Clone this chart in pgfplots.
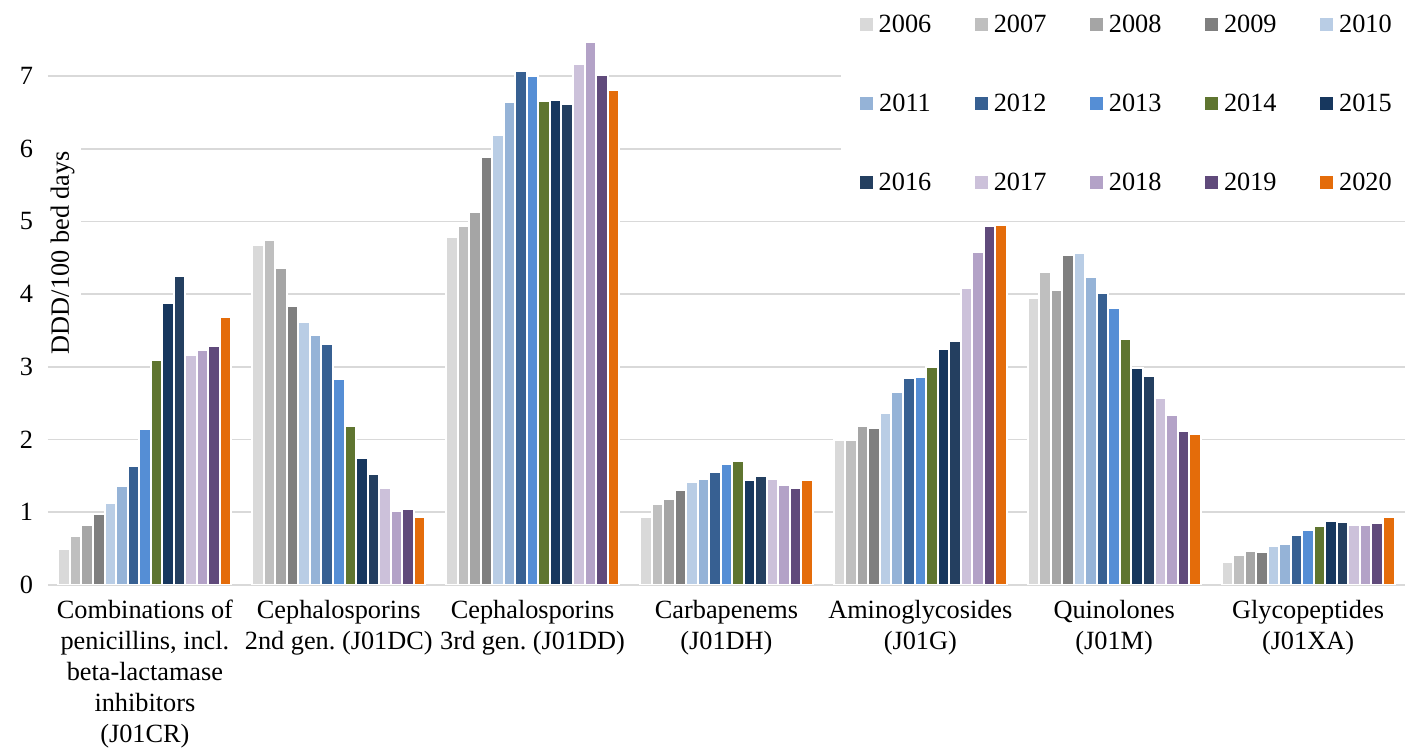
\documentclass[border=0pt]{standalone}
\usepackage{fontspec}
\setmainfont{Liberation Serif}
\usepackage{pgfplots}
\usepackage{pgfplotstable}
\pgfplotsset{compat=1.18}

\definecolor{c2006}{HTML}{D9D9D9}
\definecolor{c2007}{HTML}{BFBFBF}
\definecolor{c2008}{HTML}{A5A5A5}
\definecolor{c2009}{HTML}{7F7F7F}
\definecolor{c2010}{HTML}{B9CDE5}
\definecolor{c2011}{HTML}{95B3D7}
\definecolor{c2012}{HTML}{376092}
\definecolor{c2013}{HTML}{558ED5}
\definecolor{c2014}{HTML}{5F7530}
\definecolor{c2015}{HTML}{17375E}
\definecolor{c2016}{HTML}{243F60}
\definecolor{c2017}{HTML}{CCC1DA}
\definecolor{c2018}{HTML}{B3A2C7}
\definecolor{c2019}{HTML}{604A7B}
\definecolor{c2020}{HTML}{E46C0A}
\definecolor{gridgray}{HTML}{D9D9D9}

\pgfplotsset{/pgfplots/ybar legend/.style={/pgfplots/legend image code/.code={\path[##1,draw=none] (0pt,-6.5pt) rectangle (13pt,6.5pt);}}}

\pgfplotstableread{
x  y2006 y2007 y2008 y2009 y2010 y2011 y2012 y2013 y2014 y2015 y2016 y2017 y2018 y2019 y2020
0  0.49  0.67  0.83  0.98  1.13  1.36  1.64  2.15  3.09  3.88  4.25  3.16  3.23  3.29  3.69
1  4.68  4.75  4.36  3.84  3.62  3.44  3.32  2.83  2.19  1.74  1.52  1.34  1.02  1.05  0.94
2  4.78  4.94  5.13  5.89  6.19  6.64  7.07  7.00  6.66  6.67  6.61  7.16  7.47  7.01  6.81
3  0.93  1.11  1.18  1.31  1.42  1.46  1.56  1.66  1.71  1.45  1.50  1.46  1.38  1.34  1.45
4  2.00  1.99  2.19  2.16  2.37  2.65  2.85  2.86  3.00  3.25  3.35  4.09  4.58  4.94  4.95
5  3.95  4.31  4.06  4.54  4.56  4.23  4.01  3.81  3.39  2.98  2.88  2.57  2.34  2.12  2.08
6  0.32  0.41  0.47  0.46  0.53  0.56  0.69  0.76  0.81  0.88  0.86  0.82  0.83  0.85  0.93
}\datatable

\begin{document}
\frenchspacing
\begin{tikzpicture}[font=\fontsize{26.3}{31}\selectfont]
\begin{axis}[
  scale only axis,
  width=1357pt, height=581.6pt,
  xmin=-0.5, xmax=6.5, ymin=0, ymax=8,
  ybar=0pt, bar width=0.0595,
  axis line style={draw=none},
  tick style={draw=none},
  ymajorgrids,
  major grid style={draw=gridgray, line width=1.8pt},
  ytick={0,1,2,3,4,5,6,7},
  xtick={0,1,2,3,4,5,6},
  xticklabels={{Combinations of\\penicillins, incl.\\beta-lactamase\\inhibitors\\(J01CR)},
               {Cephalosporins\\2nd gen. (J01DC)},
               {Cephalosporins\\3rd gen. (J01DD)},
               {Carbapenems\\(J01DH)},
               {Aminoglycosides\\(J01G)},
               {Quinolones\\(J01M)},
               {Glycopeptides\\(J01XA)}},
  xticklabel style={align=center, yshift=-7.6pt},
  yticklabel style={xshift=-11.5pt},
  /pgf/number format/assume math mode=true,
  ylabel={DDD/100 bed days},
  ylabel style={at={(axis description cs:0.0107,0.5717)}, anchor=center, fill=white, inner xsep=5pt, inner ysep=7pt},
  legend columns=5,
  legend style={at={(axis description cs:1,1)}, anchor=north east, xshift=6pt,
    draw=none, fill=white, inner xsep=19pt, inner ysep=11.5pt,
    nodes={inner sep=0pt},
    row sep=59.8pt,
    /tikz/every odd column/.append style={column sep=6pt},
    /tikz/every even column/.append style={column sep=43.5pt},
    font=\fontsize{26.3}{31}\selectfont},
  every axis plot/.append style={draw=white, line width=2pt},
]
\addplot[fill=c2006] table[x=x,y=y2006]{\datatable};
\addplot[fill=c2007] table[x=x,y=y2007]{\datatable};
\addplot[fill=c2008] table[x=x,y=y2008]{\datatable};
\addplot[fill=c2009] table[x=x,y=y2009]{\datatable};
\addplot[fill=c2010] table[x=x,y=y2010]{\datatable};
\addplot[fill=c2011] table[x=x,y=y2011]{\datatable};
\addplot[fill=c2012] table[x=x,y=y2012]{\datatable};
\addplot[fill=c2013] table[x=x,y=y2013]{\datatable};
\addplot[fill=c2014] table[x=x,y=y2014]{\datatable};
\addplot[fill=c2015] table[x=x,y=y2015]{\datatable};
\addplot[fill=c2016] table[x=x,y=y2016]{\datatable};
\addplot[fill=c2017] table[x=x,y=y2017]{\datatable};
\addplot[fill=c2018] table[x=x,y=y2018]{\datatable};
\addplot[fill=c2019] table[x=x,y=y2019]{\datatable};
\addplot[fill=c2020] table[x=x,y=y2020]{\datatable};
\legend{2006,2007,2008,2009,2010,2011,2012,2013,2014,2015,2016,2017,2018,2019,2020}
\coordinate (sw) at (rel axis cs:0,0);
\end{axis}
\pgfresetboundingbox
\path[use as bounding box] ([shift={(-48pt,-166pt)}]sw) rectangle ++(1411pt,751pt);
\end{tikzpicture}
\end{document}
